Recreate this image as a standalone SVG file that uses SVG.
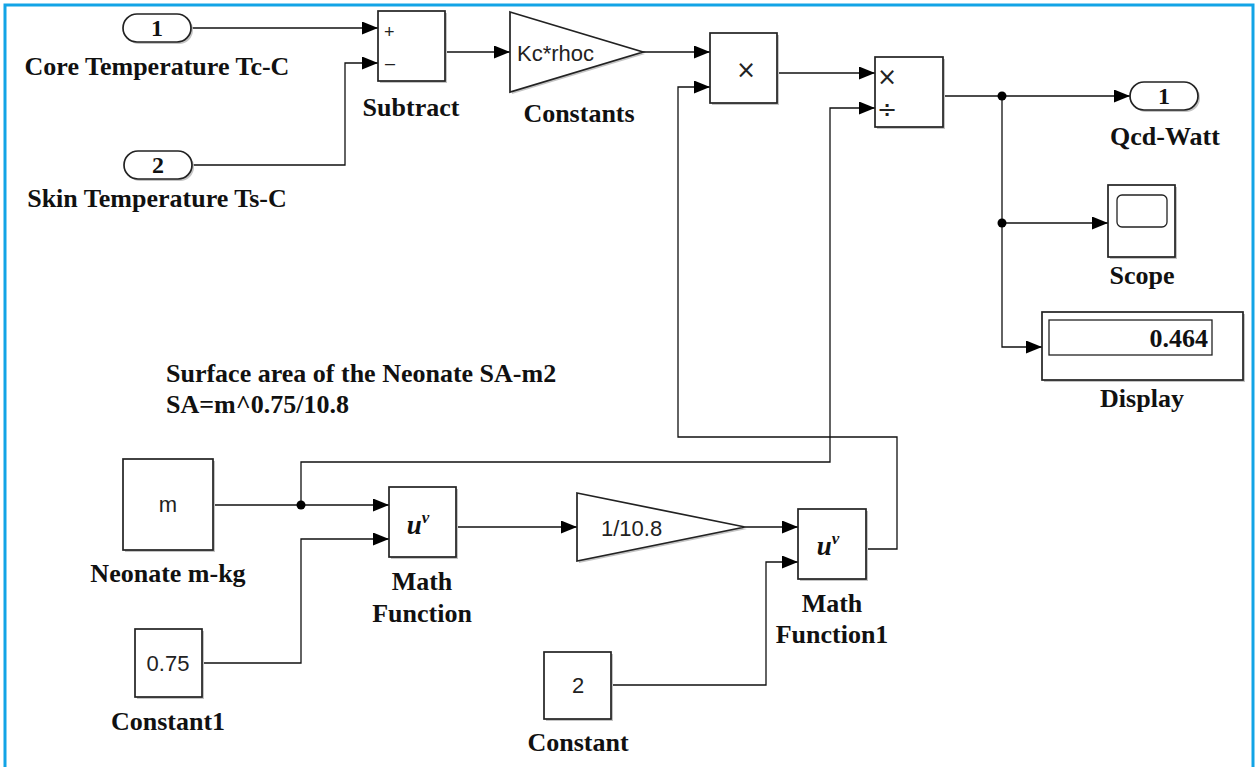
<svg xmlns="http://www.w3.org/2000/svg" width="1257" height="767" viewBox="0 0 1257 767">
<defs>
<style>
.blk{fill:#fff;stroke:#222;stroke-width:1.7}
.sh{fill:#c4c4c4;stroke:none}
.ln{fill:none;stroke:#111;stroke-width:1.3}
.lbl{font-family:"Liberation Serif","Times New Roman",serif;font-weight:bold;font-size:26px;fill:#111;text-anchor:middle}
.note{font-family:"Liberation Serif","Times New Roman",serif;font-weight:bold;font-size:26px;fill:#111;text-anchor:start}
.num{font-family:"Liberation Serif","Times New Roman",serif;font-weight:bold;font-size:24px;fill:#111;text-anchor:middle}
.in{font-family:"Liberation Sans",Arial,sans-serif;font-size:22px;fill:#222}
.op{font-family:"DejaVu Sans","Liberation Sans",sans-serif;font-size:24px;fill:#222;text-anchor:middle}
.sg{font-family:"Liberation Sans",Arial,sans-serif;font-size:18px;fill:#222}
.uv{font-family:"Liberation Serif","Times New Roman",serif;font-style:italic;font-weight:bold;font-size:27px;fill:#111;text-anchor:middle}
</style>
<marker id="ar" viewBox="0 0 16 13" refX="16" refY="6.5" markerWidth="16" markerHeight="13" markerUnits="userSpaceOnUse" orient="auto">
<path d="M0,0 L16,6.5 L0,13 z" fill="#000"/>
</marker>
</defs>
<rect width="1257" height="767" fill="#fff"/>
<path d="M5,770 V5 H1253 V770" fill="none" stroke="#12a4e6" stroke-width="3"/>

<g id="connectors">
<path class="ln" d="M191,28 H378" marker-end="url(#ar)"/>
<path class="ln" d="M192,165 H345 V63 H378" marker-end="url(#ar)"/>
<path class="ln" d="M445,52 H510" marker-end="url(#ar)"/>
<path class="ln" d="M643,52 H710" marker-end="url(#ar)"/>
<path class="ln" d="M777,73 H875" marker-end="url(#ar)"/>
<path class="ln" d="M943,96 H1130" marker-end="url(#ar)"/>
<path class="ln" d="M1002,96 V347 H1042" marker-end="url(#ar)"/>
<path class="ln" d="M1002,223 H1108" marker-end="url(#ar)"/>
<path class="ln" d="M213,505 H389" marker-end="url(#ar)"/>
<path class="ln" d="M301,505 V462 H830 V108 H875" marker-end="url(#ar)"/>
<path class="ln" d="M202,663 H301 V539 H389" marker-end="url(#ar)"/>
<path class="ln" d="M456,527 H577" marker-end="url(#ar)"/>
<path class="ln" d="M745,527 H798" marker-end="url(#ar)"/>
<path class="ln" d="M611,685 H766 V562 H798" marker-end="url(#ar)"/>
<path class="ln" d="M866,549 H897 V437 H678 V87 H710" marker-end="url(#ar)"/>
<circle cx="301" cy="505" r="4.5" fill="#000"/>
<circle cx="1002" cy="96" r="4.5" fill="#000"/>
<circle cx="1002" cy="223" r="4.5" fill="#000"/>
</g>

<g id="in1">
<rect class="sh" x="125" y="16" width="68" height="28" rx="14"/>
<rect class="blk" x="123" y="14" width="68" height="28" rx="14"/>
<text class="num" x="157" y="36">1</text>
<text class="lbl" x="157" y="75">Core Temperature Tc-C</text>
</g>

<g id="in2">
<rect class="sh" x="126" y="153" width="68" height="28" rx="14"/>
<rect class="blk" x="124" y="151" width="68" height="28" rx="14"/>
<text class="num" x="158" y="173">2</text>
<text class="lbl" x="157" y="207">Skin Temperature Ts-C</text>
</g>

<g id="subtract">
<rect class="sh" x="380" y="13" width="67" height="70"/>
<rect class="blk" x="378" y="11" width="67" height="70"/>
<text class="sg" x="384" y="38">+</text>
<text class="sg" x="385" y="69">–</text>
<text class="lbl" x="411" y="116">Subtract</text>
</g>

<g id="constants">
<polygon class="sh" points="512,14 645,54 512,94"/>
<polygon class="blk" points="510,12 643,52 510,92"/>
<text class="in" x="517" y="61">Kc*rhoc</text>
<text class="lbl" x="579" y="122">Constants</text>
</g>

<g id="product">
<rect class="sh" x="712" y="35" width="67" height="70"/>
<rect class="blk" x="710" y="33" width="67" height="70"/>
<text class="op" x="746" y="78">×</text>
</g>

<g id="divide">
<rect class="sh" x="877" y="59" width="68" height="70"/>
<rect class="blk" x="875" y="57" width="68" height="70"/>
<text class="op" x="887" y="85">×</text>
<text class="op" x="887" y="118">÷</text>
</g>

<g id="out1">
<rect class="sh" x="1132" y="84" width="68" height="28" rx="14"/>
<rect class="blk" x="1130" y="82" width="68" height="28" rx="14"/>
<text class="num" x="1164" y="104">1</text>
<text class="lbl" x="1165" y="145">Qcd-Watt</text>
</g>

<g id="scope">
<rect class="sh" x="1110" y="187" width="67" height="72"/>
<rect class="blk" x="1108" y="185" width="67" height="72"/>
<rect x="1117" y="195" width="50" height="32" rx="5" fill="#fff" stroke="#222" stroke-width="1.3"/>
<text class="lbl" x="1142" y="284">Scope</text>
</g>

<g id="display">
<rect class="sh" x="1044" y="314" width="201" height="68"/>
<rect class="blk" x="1042" y="312" width="201" height="68"/>
<rect x="1049" y="320" width="163" height="35" fill="#fff" stroke="#222" stroke-width="1.3"/>
<text class="num" x="1208" y="347" style="text-anchor:end;font-size:26px">0.464</text>
<text class="lbl" x="1142" y="407">Display</text>
</g>

<g id="note">
<text class="note" x="166" y="382">Surface area of the Neonate SA-m2</text>
<text class="note" x="166" y="413">SA=m^0.75/10.8</text>
</g>

<g id="neonate">
<rect class="sh" x="125" y="461" width="90" height="91"/>
<rect class="blk" x="123" y="459" width="90" height="91"/>
<text class="in" x="168" y="512" text-anchor="middle">m</text>
<text class="lbl" x="168" y="582">Neonate m-kg</text>
</g>

<g id="mathfunction">
<rect class="sh" x="391" y="489" width="67" height="70"/>
<rect class="blk" x="389" y="487" width="67" height="70"/>
<text class="uv" x="418" y="534">u<tspan dy="-11" font-size="17">v</tspan></text>
<text class="lbl" x="422" y="590">Math</text>
<text class="lbl" x="422" y="622">Function</text>
</g>

<g id="constant1">
<rect class="sh" x="137" y="631" width="67" height="68"/>
<rect class="blk" x="135" y="629" width="67" height="68"/>
<text class="in" x="168" y="671" text-anchor="middle">0.75</text>
<text class="lbl" x="168" y="730">Constant1</text>
</g>

<g id="gain">
<polygon class="sh" points="579,495 747,529 579,563"/>
<polygon class="blk" points="577,493 745,527 577,561"/>
<text class="in" x="601" y="536">1/10.8</text>
</g>

<g id="mathfunction1">
<rect class="sh" x="800" y="511" width="68" height="70"/>
<rect class="blk" x="798" y="509" width="68" height="70"/>
<text class="uv" x="828" y="555">u<tspan dy="-11" font-size="17">v</tspan></text>
<text class="lbl" x="832" y="612">Math</text>
<text class="lbl" x="832" y="643">Function1</text>
</g>

<g id="constant">
<rect class="sh" x="546" y="654" width="67" height="67"/>
<rect class="blk" x="544" y="652" width="67" height="67"/>
<text class="in" x="578" y="693" text-anchor="middle">2</text>
<text class="lbl" x="578" y="751">Constant</text>
</g>
</svg>
